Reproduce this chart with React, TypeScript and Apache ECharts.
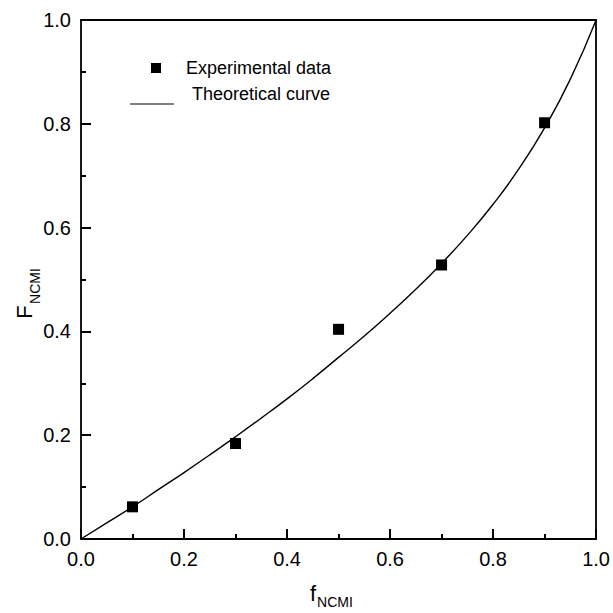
import React, { useEffect, useRef } from "react";
import * as echarts from "echarts";

const expF = [0.1, 0.3, 0.5, 0.7, 0.9];
const expFNCMI = [0.062, 0.184, 0.404, 0.528, 0.802];
const curveX = [0, 0.05, 0.1, 0.15, 0.2, 0.25, 0.3, 0.35, 0.4, 0.45, 0.5, 0.55, 0.6, 0.65, 0.7, 0.75, 0.8, 0.85, 0.9, 0.95, 1.0];
const curveY = [0, 0.031, 0.062, 0.095, 0.128, 0.162, 0.197, 0.233, 0.27, 0.309, 0.35, 0.391, 0.435, 0.481, 0.531, 0.585, 0.645, 0.713, 0.792, 0.886, 1.0];
const legendLabels = ["Experimental data", "Theoretical curve"];

const FONT = "Liberation Sans, Arial, sans-serif";

export default function App() {
  const ref = useRef<HTMLDivElement>(null);
  useEffect(() => {
    if (!ref.current) return;
    const chart = echarts.init(ref.current, null, { renderer: "svg" });
    const lineStyle = () => ({ color: "#000", width: 1.8 });
    const tick = () => ({ show: true, inside: true, length: 10, lineStyle: { color: "#000", width: 2 } });
    const minor = () => ({ show: true, splitNumber: 2, length: 5, lineStyle: { color: "#000", width: 2 } });
    const label = () => ({ color: "#000", fontSize: 20, fontFamily: FONT, margin: 10, formatter: (v: number) => v.toFixed(1) });
    const border = (position: string) => ({
      type: "value" as const,
      min: 0,
      max: 1,
      position,
      axisLine: { show: true, onZero: false, lineStyle: lineStyle() },
      axisTick: { show: false },
      axisLabel: { show: false },
      splitLine: { show: false },
    });
    chart.setOption({
      animation: false,
      backgroundColor: "#fff",
      grid: { left: 81, right: 14, top: 20, bottom: 74 },
      xAxis: [
        {
          type: "value",
          min: 0,
          max: 1,
          interval: 0.2,
          position: "bottom",
          axisLine: { show: true, onZero: false, lineStyle: lineStyle() },
          splitLine: { show: false },
          axisTick: tick(),
          minorTick: minor(),
          axisLabel: label(),
        },
        border("top"),
      ],
      yAxis: [
        {
          type: "value",
          min: 0,
          max: 1,
          interval: 0.2,
          position: "left",
          axisLine: { show: true, onZero: false, lineStyle: lineStyle() },
          splitLine: { show: false },
          axisTick: tick(),
          minorTick: minor(),
          axisLabel: label(),
        },
        border("right"),
      ],
      series: [
        {
          type: "line",
          data: curveX.map((x, i) => [x, curveY[i]]),
          smooth: true,
          showSymbol: false,
          lineStyle: { color: "#000", width: 1.4 },
          z: 2,
        },
        {
          type: "scatter",
          data: expF.map((x, i) => [x, expFNCMI[i]]),
          symbol: "rect",
          symbolSize: 11,
          itemStyle: { color: "#000", opacity: 1 },
          z: 3,
        },
      ],
      graphic: [
        { type: "rect", shape: { x: 151, y: 63, width: 10, height: 10 }, style: { fill: "#000" } },
        {
          type: "text",
          x: 186,
          y: 68,
          style: { text: legendLabels[0], fontSize: 18, fontFamily: FONT, fill: "#000", verticalAlign: "middle" },
        },
        { type: "line", shape: { x1: 130, y1: 104, x2: 174, y2: 104 }, style: { stroke: "#000", lineWidth: 1.2 } },
        {
          type: "text",
          x: 192,
          y: 94,
          style: { text: legendLabels[1], fontSize: 18, fontFamily: FONT, fill: "#000", verticalAlign: "middle" },
        },
        {
          type: "text",
          x: 313,
          y: 593,
          style: { text: "f", fontSize: 22, fontFamily: FONT, fill: "#000", align: "center", verticalAlign: "middle" },
        },
        {
          type: "text",
          x: 335,
          y: 602,
          style: { text: "NCMI", fontSize: 14, fontFamily: FONT, fill: "#000", align: "center", verticalAlign: "middle" },
        },
        {
          type: "text",
          x: 24,
          y: 312,
          rotation: Math.PI / 2,
          style: { text: "F", fontSize: 22, fontFamily: FONT, fill: "#000", align: "center", verticalAlign: "middle" },
        },
        {
          type: "text",
          x: 35,
          y: 286,
          rotation: Math.PI / 2,
          style: { text: "NCMI", fontSize: 14, fontFamily: FONT, fill: "#000", align: "center", verticalAlign: "middle" },
        },
      ],
    });
    return () => chart.dispose();
  }, []);
  return (
    <div
      ref={ref}
      style={{ position: "fixed", left: 0, top: 0, width: 613, height: 613, background: "#fff" }}
    />
  );
}
